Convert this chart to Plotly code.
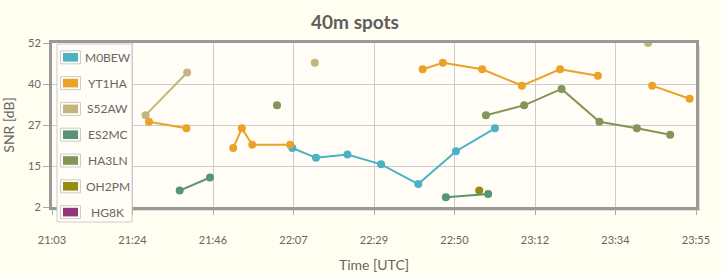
import plotly.graph_objects as go

DAY = "2020-01-01 "

series_names = ["M0BEW", "YT1HA", "S52AW", "ES2MC", "HA3LN", "OH2PM", "HG8K"]
series_colors = ["#4bb2c5", "#EAA228", "#c5b47f", "#579575", "#839557", "#958c12", "#953579"]

# None marks a break in a series line
m0bew_t = ["22:07:12", "22:13:30", "22:21:54", "22:30:54", "22:40:48", "22:50:54", "23:01:18"]
m0bew_v = [20, 17, 18, 15, 9, 19, 26]

yt1ha_t = ["21:28:54", "21:38:54", None,
           "21:51:24", "21:53:42", "21:56:30", "22:06:36", None,
           "22:42:00", "22:47:24", "22:57:54", "23:08:30", "23:18:42", "23:28:48", None,
           "23:43:18", "23:53:18"]
yt1ha_v = [28, 26, None,
           20, 26, 21, 21, None,
           44, 46, 44, 39, 44, 42, None,
           39, 35]

s52aw_t = ["21:28:00", "21:39:06", None, "22:13:12", None, "23:42:12"]
s52aw_v = [30, 43, None, 46, None, 52]

es2mc_t = ["21:37:06", "21:45:12", None, "22:48:12", "22:59:30"]
es2mc_v = [7, 11, None, 5, 6]

ha3ln_t = ["22:03:06", None, "22:58:54", "23:09:06", "23:19:06", "23:29:12", "23:39:12", "23:48:06"]
ha3ln_v = [33, None, 30, 33, 38, 28, 26, 24]

oh2pm_t = ["22:57:06"]
oh2pm_v = [7]

hg8k_t = []
hg8k_v = []

x_tick_vals = ["21:03:00", "21:24:30", "21:46:00", "22:07:30", "22:29:00",
               "22:50:30", "23:12:00", "23:33:30", "23:55:00"]
x_tick_text = ["21:03", "21:24", "21:46", "22:07", "22:29", "22:50", "23:12", "23:34", "23:55"]
x_range = ["21:03:00", "23:55:00"]

y_tick_vals = [2, 14.5, 27, 39.5, 52]
y_tick_text = ["2", "15", "27", "40", "52"]
y_range = [2, 52]

all_t = [m0bew_t, yt1ha_t, s52aw_t, es2mc_t, ha3ln_t, oh2pm_t, hg8k_t]
all_v = [m0bew_v, yt1ha_v, s52aw_v, es2mc_v, ha3ln_v, oh2pm_v, hg8k_v]

W, H = 722, 278
ML, MR, MT, MB = 52, 26, 43, 71
PW, PH = W - ML - MR, H - MT - MB


def stamp(t):
    return None if t is None else DAY + t


def px(x):  # pixel -> paper x
    return (x - ML) / PW


def py(y):  # pixel -> paper y
    return (H - MB - y) / PH


FONT = "Lato, 'Liberation Sans', sans-serif"
TXT = "#666666"

fig = go.Figure()
for name, color, ts, vs in zip(series_names, series_colors, all_t, all_v):
    fig.add_trace(go.Scatter(
        x=[stamp(t) for t in ts], y=vs, mode="lines+markers", name=name,
        showlegend=False, connectgaps=False,
        line=dict(color=color, width=2), marker=dict(color=color, size=8),
    ))

shapes = []
annotations = []

# frame shadow (right and bottom)
shapes.append(dict(type="line", xref="paper", yref="paper",
                   x0=px(ML + PW + 3), x1=px(ML + PW + 3), y0=py(MT + 3), y1=py(MT + PH + 3),
                   line=dict(color="rgba(0,0,0,0.12)", width=2), layer="below"))
shapes.append(dict(type="line", xref="paper", yref="paper",
                   x0=px(ML + 3), x1=px(ML + PW + 4), y0=py(MT + PH + 3), y1=py(MT + PH + 3),
                   line=dict(color="rgba(0,0,0,0.12)", width=2), layer="below"))

# legend box
LX0, LX1, LY0, LY1 = 57, 132, 44, 222
shapes.append(dict(type="rect", xref="paper", yref="paper",
                   x0=px(LX0), x1=px(LX1), y0=py(LY0), y1=py(LY1),
                   fillcolor="#fffdf6", line=dict(color="#cccccc", width=1), layer="above"))
ROW0, ROWSTEP = 57.3, 25.8
for i, (name, color) in enumerate(zip(series_names, series_colors)):
    cy = ROW0 + i * ROWSTEP
    shapes.append(dict(type="rect", xref="paper", yref="paper",
                       x0=px(60.5), x1=px(80.5), y0=py(cy - 6.5), y1=py(cy + 6.5),
                       fillcolor="#fffdf6", line=dict(color="#cccccc", width=1), layer="above"))
    shapes.append(dict(type="rect", xref="paper", yref="paper",
                       x0=px(63), x1=px(78), y0=py(cy - 4.3), y1=py(cy + 4.3),
                       fillcolor=color, line=dict(width=0), layer="above"))
    annotations.append(dict(xref="paper", yref="paper", x=px(107.5), y=py(cy),
                            xanchor="center", yanchor="middle", showarrow=False,
                            text=name, font=dict(family=FONT, size=12, color=TXT)))

fig.update_layout(
    width=W, height=H,
    margin=dict(l=ML, r=MR, t=MT, b=MB, autoexpand=False),
    paper_bgcolor="#fffef0",
    plot_bgcolor="#fffdf6",
    font=dict(family=FONT, color=TXT, size=11),
    title=dict(text="<b>40m spots</b>", x=355 / W, xanchor="center",
               y=1 - 22 / H, yanchor="middle",
               font=dict(family=FONT, size=19, color="#5e5e5e")),
    showlegend=False,
    shapes=shapes,
    annotations=annotations,
    xaxis=dict(type="date", range=[DAY + x_range[0], DAY + x_range[1]],
               tickvals=[DAY + t for t in x_tick_vals], ticktext=x_tick_text,
               showgrid=True, gridcolor="#cccccc", gridwidth=1,
               showline=True, linecolor="#999999", linewidth=3, mirror=True,
               ticks="outside", ticklen=5, tickcolor="#aaaaaa", tickwidth=1,
               ticklabelstandoff=16, zeroline=False, automargin=False,
               title=dict(text="Time [UTC]", standoff=15,
                          font=dict(family=FONT, size=14, color=TXT))),
    yaxis=dict(range=y_range, tickvals=y_tick_vals, ticktext=y_tick_text,
               showgrid=True, gridcolor="#cccccc", gridwidth=1,
               showline=True, linecolor="#999999", linewidth=3, mirror=True,
               ticks="outside", ticklen=6, tickcolor="#aaaaaa", tickwidth=1,
               zeroline=False, automargin=False,
               title=dict(text="SNR [dB]", standoff=11,
                          font=dict(family=FONT, size=14, color=TXT))),
)

fig.write_html("out.html")
